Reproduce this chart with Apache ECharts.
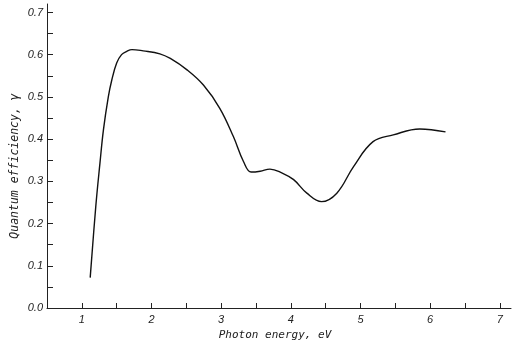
<!DOCTYPE html>
<html>
<head>
<meta charset="utf-8">
<script src="https://cdn.jsdelivr.net/npm/echarts@6/dist/echarts.min.js"></script>
<style>
  html, body { margin: 0; padding: 0; background: #fff; }
  #chart { width: 512px; height: 353px; }
</style>
</head>
<body>
<div id="chart"></div>
<script>
// curve: photon energy (eV) / quantum efficiency
var energy = [1.12, 1.20, 1.26, 1.31, 1.38, 1.43, 1.50, 1.57, 1.645, 1.72, 1.88, 2.12, 2.27, 2.51, 2.745, 2.98, 3.175, 3.32, 3.43, 3.56, 3.70, 3.87, 4.04, 4.23, 4.44, 4.66, 4.90, 5.18, 5.47, 5.85, 6.22];
var efficiency = [0.072, 0.24, 0.343, 0.422, 0.50, 0.540, 0.580, 0.600, 0.608, 0.612, 0.609, 0.602, 0.591, 0.564, 0.528, 0.473, 0.406, 0.347, 0.322, 0.324, 0.329, 0.320, 0.304, 0.272, 0.252, 0.272, 0.335, 0.394, 0.410, 0.424, 0.417];

var xTicks = [1, 1.5, 2, 2.5, 3, 3.5, 4, 4.5, 5, 5.5, 6, 6.5, 7];
var xLabels = [1, 2, 3, 4, 5, 6, 7];
var yTicks = [0, 0.05, 0.1, 0.15, 0.2, 0.25, 0.3, 0.35, 0.4, 0.45, 0.5, 0.55, 0.6, 0.65, 0.7];
var yLabels = [0, 0.1, 0.2, 0.3, 0.4, 0.5, 0.6, 0.7];

var points = [];
for (var i = 0; i < energy.length; i++) {
    points.push([energy[i], efficiency[i]]);
}

var myChart = echarts.init(document.getElementById('chart'));
var font = 'Liberation Sans';
var titleFont = 'DejaVu Sans Mono';
var option = {
    animation: false,
    grid: { left: 47, right: 1, top: 4, bottom: 45, containLabel: false, outerBoundsMode: 'none' },
    graphic: [{
        type: 'text',
        x: 15,
        y: 166,
        rotation: Math.PI / 2,
        style: {
            text: 'Quantum efficiency, \u03b3',
            fontFamily: titleFont, fontStyle: 'italic', fontSize: 11.5,
            fill: '#222', align: 'center', verticalAlign: 'middle'
        }
    }],
    xAxis: {
        type: 'value',
        min: 0.5,
        max: 7.16,
        name: 'Photon energy, eV',
        nameLocation: 'middle',
        nameGap: 21,
        nameTextStyle: { fontFamily: titleFont, fontStyle: 'italic', fontSize: 11, color: '#222', padding: [0, 8, 0, 0] },
        axisLine: { lineStyle: { color: '#222', width: 1 } },
        axisTick: { inside: true, length: 5, customValues: xTicks, lineStyle: { color: '#222' } },
        axisLabel: {
            customValues: xLabels, margin: 6,
            fontFamily: font, fontStyle: 'italic', fontSize: 11, color: '#222'
        },
        splitLine: { show: false }
    },
    yAxis: {
        type: 'value',
        min: 0,
        max: 0.72,
        axisLine: { show: true, lineStyle: { color: '#222', width: 1 } },
        axisTick: { show: true, inside: true, length: 6, customValues: yTicks, lineStyle: { color: '#222' } },
        axisLabel: {
            customValues: yLabels, margin: 4,
            fontFamily: font, fontStyle: 'italic', fontSize: 11, color: '#222',
            formatter: function (v) { return v.toFixed(1); }
        },
        splitLine: { show: false }
    },
    series: [{
        type: 'line',
        data: points,
        smooth: 0.4,
        symbol: 'none',
        lineStyle: { color: '#111', width: 1.4 }
    }]
};
myChart.setOption(option);
</script>
</body>
</html>
